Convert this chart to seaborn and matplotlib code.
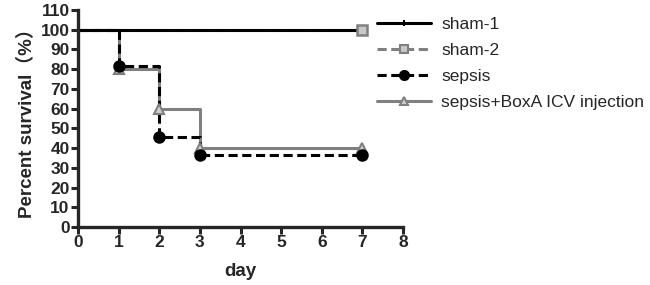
import matplotlib
matplotlib.use("Agg")
import matplotlib.pyplot as plt
from matplotlib.lines import Line2D
import seaborn as sns
import pandas as pd

# survival curves (day, percent)
days = [0, 1, 2, 3, 7]
sham1 = [100, 100, 100, 100, 100]
sham2 = [100, 100, 100, 100, 100]
sepsis = [100, 81.8, 45.5, 36.4, 36.4]
boxa = [100, 80, 60, 40, 40]

names = ["sham-1", "sham-2", "sepsis", "sepsis+BoxA ICV injection"]

sns.set_style("ticks")
plt.rcParams["font.family"] = ["Liberation Sans", "Noto Sans CJK SC", "DejaVu Sans"]

GRAY = "#808080"
styles = {
    "sham-1": dict(color="black", ls="-", marker="|", mfc="black", mec="black", ms=5),
    "sham-2": dict(color=GRAY, ls=(0, (3, 1.5)), marker="s", mfc="#c8c8c8", mec=GRAY, ms=6.5),
    "sepsis": dict(color="black", ls=(0, (3, 1.5)), marker="o", mfc="black", mec="black", ms=7.5),
    "sepsis+BoxA ICV injection": dict(color=GRAY, ls="-", marker="^", mfc="#d0d0d0", mec=GRAY, ms=6.5),
}

df = pd.DataFrame({"day": days * 4,
                   "survival": sham1 + sham2 + sepsis + boxa,
                   "group": [n for n in names for _ in days]})

fig = plt.figure(figsize=(6.5, 2.85), dpi=100)
ax = fig.add_axes([0.12, 0.2035, 0.5, 0.7615])

lw = 2.2
draw_order = ["sham-2", "sepsis+BoxA ICV injection", "sepsis", "sham-1"]
for n in draw_order:
    st = styles[n]
    sub = df[df.group == n]
    sns.lineplot(data=sub, x="day", y="survival", ax=ax, color=st["color"],
                 linestyle=st["ls"], linewidth=lw, drawstyle="steps-post",
                 legend=False, errorbar=None, zorder=2)

# markers at the event points (not at day 0)
for n in ["sepsis+BoxA ICV injection", "sepsis"]:
    st = styles[n]
    sub = df[(df.group == n) & (df.day > 0)]
    ax.plot(sub.day, sub.survival, ls="none", marker=st["marker"],
            mfc=st["mfc"], mec=st["mec"], ms=st["ms"], mew=1.5, zorder=3, clip_on=False)
# sham-2 end marker
sub = df[(df.group == "sham-2") & (df.day == 7)]
ax.plot(sub.day, sub.survival, ls="none", marker="s", mfc=styles["sham-2"]["mfc"],
        mec=GRAY, ms=6.5, mew=1.8, zorder=3)

ax.set_xlim(0, 8)
ax.set_ylim(0, 110)
ax.set_xticks(range(0, 9))
ax.set_yticks(range(0, 111, 10))
ax.tick_params(axis="both", direction="out", length=5, width=2.2, labelsize=12.5, pad=1)
for lab in ax.get_xticklabels() + ax.get_yticklabels():
    lab.set_fontweight("bold")
for s in ["left", "bottom"]:
    ax.spines[s].set_linewidth(2.4)
sns.despine(ax=ax)

ax.set_xlabel("day", fontsize=13.5, fontweight="bold", labelpad=9)
ax.set_ylabel("Percent survival（%）", fontsize=13.5, fontweight="bold", labelpad=3)

handles = []
for n in names:
    st = styles[n]
    handles.append(Line2D([0], [0], color=st["color"], ls=st["ls"], lw=lw,
                          marker=st["marker"], mfc=st["mfc"], mec=st["mec"],
                          ms=st["ms"] - 1, mew=1.5))
fig.legend(handles, names, loc="upper left", bbox_to_anchor=(0.58, 0.94),
           frameon=False, fontsize=12.5, handlelength=3.1, handletextpad=0.6,
           labelspacing=0.62, borderaxespad=0, borderpad=0)

fig.savefig("out.png", dpi=100)
